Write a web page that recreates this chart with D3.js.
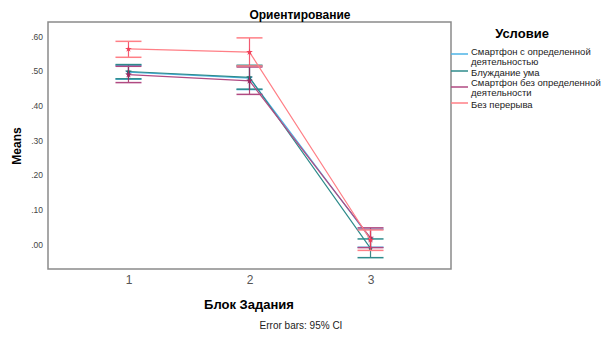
<!DOCTYPE html>
<html>
<head>
<meta charset="utf-8">
<script src="https://cdn.jsdelivr.net/npm/d3@7"></script>
<style>
  body { margin: 0; background: #fff; }
  text { font-family: "Liberation Sans", Arial, sans-serif; }
</style>
</head>
<body>
<svg id="chart" width="602" height="354"></svg>
<script>
const blocks = ['1', '2', '3'];
const seriesNames = [
  ['Смартфон с определенной', 'деятельностью'],
  ['Блуждание ума'],
  ['Смартфон без определенной', 'деятельности'],
  ['Без перерыва']
];
const seriesColors = ['#4db3e6', '#2e8b8b', '#b04a82', '#ff7f86'];
const barColors = ['#2f7fb8', '#1f7272', '#a0285f', '#f0405a'];

// means per block, then 95% CI bounds
const meanSmartDef = [0.497, 0.480, 0.016];
const lowSmartDef  = [0.477, 0.447, -0.008];
const highSmartDef = [0.517, 0.514, 0.044];

const meanWander = [0.499, 0.482, -0.011];
const lowWander  = [0.478, 0.448, -0.038];
const highWander = [0.519, 0.517, 0.016];

const meanSmartFree = [0.490, 0.472, 0.019];
const lowSmartFree  = [0.467, 0.433, -0.009];
const highSmartFree = [0.514, 0.512, 0.048];

const meanNoBreak = [0.564, 0.555, 0.013];
const lowNoBreak  = [0.540, 0.515, -0.017];
const highNoBreak = [0.586, 0.596, 0.042];

const yTicks = [0, 0.1, 0.2, 0.3, 0.4, 0.5, 0.6];

const series = [
  { mean: meanSmartDef, low: lowSmartDef, high: highSmartDef },
  { mean: meanWander, low: lowWander, high: highWander },
  { mean: meanSmartFree, low: lowSmartFree, high: highSmartFree },
  { mean: meanNoBreak, low: lowNoBreak, high: highNoBreak }
];

const svg = d3.select('#chart');
const plotL = 48, plotT = 22, plotR = 451, plotB = 269;

const x = d3.scalePoint().domain(blocks).range([plotL, plotR]).padding(0.665);
const y = d3.scaleLinear().domain([-0.0707, 0.6418]).range([plotB, plotT]);

// axes
const fmt = v => d3.format('.2f')(v).replace(/^0/, '').replace(/^-0/, '-');
svg.append('g')
  .attr('transform', `translate(${plotL},0)`)
  .call(d3.axisLeft(y).tickValues(yTicks).tickFormat(fmt).tickSize(0).tickPadding(5))
  .call(g => g.select('.domain').remove())
  .selectAll('text')
  .style('font-size', '8.5px')
  .attr('fill', '#444');

svg.append('g')
  .attr('transform', `translate(0,${plotB})`)
  .call(d3.axisBottom(x).tickSize(0).tickPadding(6))
  .call(g => g.select('.domain').remove())
  .selectAll('text')
  .style('font-size', '12px')
  .attr('fill', '#555');

// frame
svg.append('rect')
  .attr('x', plotL).attr('y', plotT)
  .attr('width', plotR - plotL).attr('height', plotB - plotT)
  .attr('fill', 'none').attr('stroke', '#8a8a8a').attr('stroke-width', 1.5);

// lines, error bars, markers
const line = d3.line().x((d, i) => x(blocks[i])).y(d => y(d));
const cap = 13;

series.forEach((s, k) => {
  const g = svg.append('g');
  g.append('path')
    .attr('d', line(s.mean))
    .attr('fill', 'none')
    .attr('stroke', seriesColors[k])
    .attr('stroke-width', 1.2);

  blocks.forEach((b, i) => {
    const cx = x(b);
    g.append('line')
      .attr('x1', cx).attr('x2', cx)
      .attr('y1', y(s.low[i])).attr('y2', y(s.high[i]))
      .attr('stroke', barColors[k]).attr('stroke-width', 1.2).attr('opacity', 0.85);
    [s.low[i], s.high[i]].forEach(v => {
      g.append('line')
        .attr('x1', cx - cap).attr('x2', cx + cap)
        .attr('y1', y(v)).attr('y2', y(v))
        .attr('stroke', seriesColors[k]).attr('stroke-width', 1.5);
    });
    g.append('path')
      .attr('d', d3.symbol(d3.symbolStar, 14)())
      .attr('transform', `translate(${cx},${y(s.mean[i])})`)
      .attr('fill', barColors[k]);
  });
});

// titles
svg.append('text')
  .attr('x', 300).attr('y', 19)
  .attr('text-anchor', 'middle')
  .style('font-size', '12px').style('font-weight', 'bold')
  .text('Ориентирование');

svg.append('text')
  .attr('transform', 'translate(21,146) rotate(-90)')
  .attr('text-anchor', 'middle')
  .style('font-size', '12px').style('font-weight', 'bold')
  .text('Means');

svg.append('text')
  .attr('x', 249).attr('y', 309)
  .attr('text-anchor', 'middle')
  .style('font-size', '13px').style('font-weight', 'bold')
  .text('Блок Задания');

svg.append('text')
  .attr('x', 301).attr('y', 329)
  .attr('text-anchor', 'middle')
  .style('font-size', '10px')
  .attr('fill', '#222')
  .text('Error bars: 95% CI');

// legend
svg.append('text')
  .attr('x', 522).attr('y', 38)
  .attr('text-anchor', 'middle')
  .style('font-size', '13px').style('font-weight', 'bold')
  .text('Условие');

const legendY = [55, 76, 86, 108];
const legendLineY = [54, 71, 87, 103];
seriesNames.forEach((lines, k) => {
  svg.append('line')
    .attr('x1', 451).attr('x2', 468)
    .attr('y1', legendLineY[k]).attr('y2', legendLineY[k])
    .attr('stroke', seriesColors[k]).attr('stroke-width', 1.5);
  lines.forEach((t, j) => {
    svg.append('text')
      .attr('x', 471).attr('y', legendY[k] + j * 10)
      .style('font-size', '9.5px')
      .attr('fill', '#222')
      .text(t);
  });
});
</script>
</body>
</html>
